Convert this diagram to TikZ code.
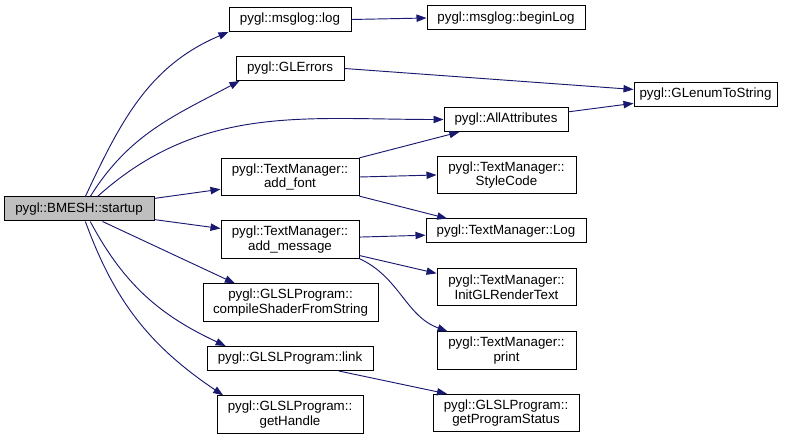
\documentclass[tikz,border=0pt]{standalone}
\usepackage{fontspec}
\setmainfont{Liberation Sans}
\usetikzlibrary{arrows.meta}
\definecolor{edgeblue}{HTML}{191970}
\definecolor{rootgray}{HTML}{BFBFBF}

\begin{document}
\begin{tikzpicture}[x=0.75pt, y=0.75pt,
    fn/.style={draw=black, line width=0.75pt, align=center, inner sep=1pt,
      font=\fontsize{10}{11}\selectfont, minimum height=18pt},
    two/.style={minimum height=28pt},
    call/.style={draw=edgeblue, line width=0.7pt,
      -{Triangle[length=7.5pt, width=5.5pt]}}]
  \useasboundingbox (0,0) rectangle (793,439);
  % root of the call graph
  \node[fn, fill=rootgray, minimum width=112.5pt] (startup) at (79,230) {pygl::BMESH::startup};
  % first column of callees
  \node[fn, minimum width=91.5pt] (log) at (290,419.5) {pygl::msglog::log};
  \node[fn, minimum width=81pt] (glerrors) at (290,370.5) {pygl::GLErrors};
  \node[fn, two, minimum width=103.5pt] (addfont) at (290,262) {pygl::TextManager::\\add\_font};
  \node[fn, two, minimum width=103.5pt] (addmsg) at (290,199.5) {pygl::TextManager::\\add\_message};
  \node[fn, two, minimum width=131.25pt] (compile) at (290.5,136.5) {pygl::GLSLProgram::\\compileShaderFromString};
  \node[fn, minimum width=124.5pt] (link) at (290,80.5) {pygl::GLSLProgram::link};
  \node[fn, two, minimum width=109.5pt] (gethandle) at (290,24.5) {pygl::GLSLProgram::\\getHandle};
  % second column
  \node[fn, minimum width=118.5pt] (beginlog) at (506,421) {pygl::msglog::beginLog};
  \node[fn, minimum width=93pt] (allattr) at (506,319.5) {pygl::AllAttributes};
  \node[fn, two, minimum width=104.25pt] (stylecode) at (506.5,264) {pygl::TextManager::\\StyleCode};
  \node[fn, minimum width=120pt] (tmlog) at (506,208) {pygl::TextManager::Log};
  \node[fn, two, minimum width=104.25pt] (initgl) at (506.5,152) {pygl::TextManager::\\InitGLRenderText};
  \node[fn, two, minimum width=104.25pt] (print) at (506.5,88.5) {pygl::TextManager::\\print};
  \node[fn, two, minimum width=109.5pt] (progstatus) at (506,26) {pygl::GLSLProgram::\\getProgramStatus};
  % third column
  \node[fn, minimum width=107.25pt] (enumstr) at (705.5,344.5) {pygl::GLenumToString};
  % calls out of startup
  \draw[call] (startup.63) to[out=65, in=-157] (log.south west);
  \draw[call] (startup.48) to[out=58, in=-152] ([xshift=3pt]glerrors.south west);
  \draw[call] (startup.34) to[out=42, in=180] (allattr.west);
  \draw[call] (startup.8) -- (addfont.190);
  \draw[call] (startup.-8) -- (addmsg.171);
  \draw[call] (startup.-28) -- (compile.161);
  \draw[call] (startup.-48) to[out=-62, in=155] (link.169);
  \draw[call] (startup.-63) to[out=-70, in=146] (gethandle.164);
  % calls further down
  \draw[call] (log.east) -- (beginlog.west);
  \draw[call] (glerrors.east) -- (enumstr.176);
  \draw[call] (allattr.7) -- (enumstr.187);
  \draw[call] (addfont.north east) -- (allattr.195);
  \draw[call] (addfont.east) -- (stylecode.west);
  \draw[call] (addfont.south east) -- (tmlog.168);
  \draw[call] (addmsg.2) -- (tmlog.183);
  \draw[call] (addmsg.-13) -- (initgl.169);
  \draw[call] (addmsg.south east) to[out=-25, in=160] (print.162);
  \draw[call] ([xshift=-26pt]link.south east) -- (progstatus.162);
\end{tikzpicture}
\end{document}
